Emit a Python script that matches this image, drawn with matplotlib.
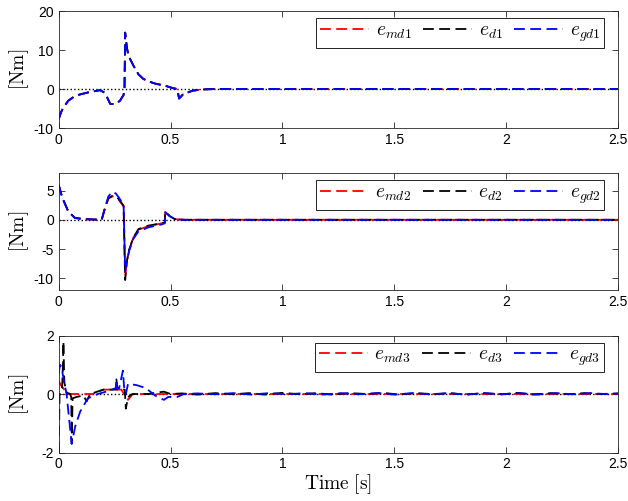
import numpy as np
import matplotlib
matplotlib.use("Agg")
import matplotlib.pyplot as plt

plt.rcParams['mathtext.fontset'] = 'cm'
plt.rcParams['font.family'] = ['Liberation Sans', 'DejaVu Sans']
plt.rcParams['axes.unicode_minus'] = False

# ---- panel 1 : joint 1 ----
t1 = [0, 0.01, 0.021, 0.043, 0.065, 0.088, 0.133, 0.185, 0.207, 0.23, 0.252, 0.274,
      0.29, 0.294, 0.297, 0.305, 0.312, 0.334, 0.356, 0.378, 0.40, 0.43, 0.475,
      0.512, 0.53, 0.538, 0.557, 0.6, 0.65, 0.7, 2.5]
emd1 = [-7.7, -6.0, -4.7, -3.0, -2.1, -1.5, -0.85, -0.3, -1.0, -3.8, -3.9, -3.0,
        -1.5, 0.0, 14.4, 10.5, 8.5, 6.0, 3.8, 2.6, 2.0, 1.4, 0.85,
        0.2, 0.0, -2.4, -1.3, -0.4, -0.1, 0.0, 0.0]
ed1 = [-7.7, -6.0, -4.7, -3.0, -2.1, -1.5, -0.85, -0.3, -1.0, -3.8, -3.9, -3.0,
       -1.5, 0.0, 14.5, 10.5, 8.5, 6.0, 3.8, 2.6, 2.0, 1.4, 0.85,
       0.2, 0.0, -2.4, -1.3, -0.4, -0.1, 0.0, 0.0]
egd1 = [-7.8, -6.0, -4.7, -3.0, -2.1, -1.5, -0.85, -0.3, -1.0, -3.8, -3.9, -3.0,
        -1.5, 0.0, 14.4, 10.5, 8.5, 6.0, 3.8, 2.6, 2.0, 1.4, 0.85,
        0.2, 0.0, -2.5, -1.3, -0.4, -0.1, 0.0, 0.0]

# ---- panel 2 : joint 2 ----
t2 = [0, 0.01, 0.021, 0.043, 0.073, 0.12, 0.192, 0.207, 0.222, 0.24, 0.255, 0.267,
      0.29, 0.297, 0.305, 0.315, 0.333, 0.356, 0.4, 0.46, 0.474, 0.476, 0.497,
      0.52, 0.56, 2.5]
emd2 = [5.9, 4.5, 3.3, 1.4, 0.3, 0.1, 0.0, 2.0, 3.6, 4.0, 3.9, 3.5,
        2.3, -9.8, -7.0, -5.1, -3.1, -1.7, -1.1, -0.6, -0.5, 1.3, 0.6,
        0.1, 0.0, 0.0]
ed2 = [6.0, 4.6, 3.4, 1.4, 0.3, 0.1, 0.0, 2.0, 3.7, 4.1, 4.0, 3.6,
       2.4, -10.3, -7.0, -5.1, -3.1, -1.6, -1.0, -0.6, -0.5, 1.4, 0.6,
       0.1, 0.0, 0.0]
egd2 = [6.0, 4.5, 3.3, 1.4, 0.3, 0.1, 0.0, 2.1, 4.0, 4.8, 4.5, 3.9,
        2.6, -8.8, -7.2, -5.3, -3.3, -2.0, -1.3, -0.8, -0.6, 1.3, 0.6,
        0.1, 0.0, 0.0]

# ---- panel 3 : joint 3 ----
t3r = [0, 0.01, 0.02, 0.037, 0.06, 0.15, 0.2, 0.26, 0.28, 0.3, 0.31, 0.33, 0.4, 2.5]
emd3 = [0.45, 0.3, 0.2, 0.02, 0.0, 0.0, 0.15, 0.15, 0.15, -0.1, -0.2, 0.0, 0.0, 0.0]

t3k = [0, 0.004, 0.015, 0.019, 0.021, 0.025, 0.035, 0.05, 0.056, 0.058, 0.062,
       0.08, 0.11, 0.125, 0.14, 0.2, 0.255, 0.258, 0.262, 0.295, 0.3, 0.31, 0.33,
       0.4, 0.44, 0.47, 0.5, 0.55, 0.62, 0.7, 0.78, 0.85, 0.92, 1.0, 1.08, 1.15,
       1.22, 1.3, 1.38, 1.45, 1.52, 1.6, 1.68, 1.75, 1.82, 1.9, 1.98, 2.05, 2.12,
       2.2, 2.28, 2.35, 2.42, 2.5]
ed3 = [-2.0, 0.1, 0.2, 1.0, 1.8, 0.4, 0.05, 0.0, -0.1, -1.7, -0.15,
       -0.1, -0.05, -0.25, 0.0, 0.15, 0.15, 0.5, 0.15, 0.15, -0.5, -0.1, 0.0,
       0.0, 0.05, 0.08, 0.0, 0.02, -0.02, 0.03, -0.01, 0.03, -0.02, 0.04, -0.01,
       0.03, -0.02, 0.03, 0.0, 0.04, -0.02, 0.03, -0.01, 0.03, -0.02, 0.03,
       -0.01, 0.04, -0.02, 0.03, -0.01, 0.03, 0.0, 0.02]

t3b = [0, 0.006, 0.01, 0.015, 0.025, 0.035, 0.058, 0.074, 0.096, 0.13, 0.175,
       0.22, 0.255, 0.258, 0.262, 0.27, 0.287, 0.292, 0.3, 0.31, 0.35, 0.39,
       0.43, 0.47, 0.49, 0.53, 0.56, 0.62, 0.7, 0.78, 0.86, 0.94, 1.02, 1.1,
       1.18, 1.26, 1.34, 1.42, 1.5, 1.58, 1.66, 1.74, 1.82, 1.9, 1.98, 2.06,
       2.14, 2.22, 2.3, 2.38, 2.46, 2.5]
egd3 = [0.7, 1.0, 0.95, 0.8, 0.4, 0.0, -1.7, -1.1, -0.6, -0.15, 0.0,
        0.1, 0.2, 0.5, 0.2, 0.2, 0.8, 0.25, 0.0, 0.35, 0.3, 0.2,
        -0.05, -0.2, -0.1, -0.1, 0.0, 0.02, -0.01, 0.03, -0.02, 0.03, -0.01,
        0.03, -0.02, 0.03, -0.01, 0.03, -0.02, 0.03, -0.01, 0.03, -0.02, 0.03,
        -0.01, 0.03, -0.02, 0.03, -0.01, 0.03, -0.01, 0.02]

xticks = [0, 0.5, 1, 1.5, 2, 2.5]
xticklabels = ['0', '0.5', '1', '1.5', '2', '2.5']

panels = [
    dict(series=[(t1, emd1), (t1, ed1), (t1, egd1)], ylim=(-10, 20),
         yticks=[-10, 0, 10, 20], names=['md1', 'd1', 'gd1']),
    dict(series=[(t2, emd2), (t2, ed2), (t2, egd2)], ylim=(-12, 8),
         yticks=[-10, -5, 0, 5], names=['md2', 'd2', 'gd2']),
    dict(series=[(t3r, emd3), (t3k, ed3), (t3b, egd3)], ylim=(-2, 2),
         yticks=[-2, 0, 2], names=['md3', 'd3', 'gd3']),
]

colors = ['red', 'black', 'blue']
bottoms = [0.7445, 0.4212, 0.0968]
edge = '0.15'

fig = plt.figure(figsize=(6.28, 5.01), dpi=100)

for p, b in zip(panels, bottoms):
    ax = fig.add_axes([0.0935, b, 0.8906, 0.2335])
    ax.axhline(0, color='black', ls=':', lw=1.0, zorder=1)
    for (t, y), c, n in zip(p['series'], colors, p['names']):
        ax.plot(t, y, color=c, lw=1.3, ls=(0, (6, 3)), label=r'$e_{%s}$' % n, zorder=2)
    ax.set_xlim(0, 2.5)
    ax.set_ylim(*p['ylim'])
    ax.set_yticks(p['yticks'])
    ax.set_xticks(xticks)
    ax.set_xticklabels(xticklabels)
    ax.tick_params(direction='in', top=True, right=True, length=4, width=0.6,
                   labelsize=10, colors=edge, labelcolor='black')
    for s in ax.spines.values():
        s.set_color(edge)
        s.set_linewidth(0.6)
    ax.set_ylabel(r'$\mathrm{[Nm]}$', fontsize=14)
    ax.yaxis.set_label_coords(-0.05, 0.5)
    leg = ax.legend(loc='upper right', bbox_to_anchor=(0.975, 0.94), ncol=3,
                    fontsize=14, frameon=True, fancybox=False, borderaxespad=0,
                    handlelength=2.5, handletextpad=0.35, columnspacing=0.6,
                    borderpad=0.2)
    leg.get_frame().set_edgecolor('black')
    leg.get_frame().set_linewidth(0.6)
    leg.get_frame().set_alpha(1)

ax.set_xlabel(r'$\mathrm{Time\ [s]}$', fontsize=14)
ax.xaxis.set_label_coords(0.5, -0.17)

fig.savefig('out.png', dpi=100)
